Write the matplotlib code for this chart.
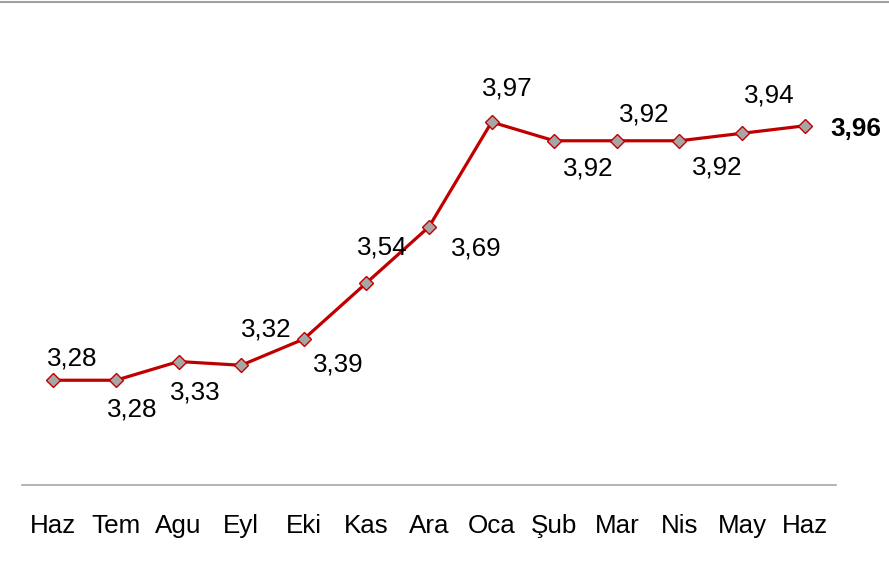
import matplotlib
matplotlib.use("Agg")
import matplotlib.pyplot as plt
from matplotlib.lines import Line2D

plt.rcParams['font.family'] = ['Liberation Sans', 'DejaVu Sans']

months = ["Haz", "Tem", "Agu", "Eyl", "Eki", "Kas", "Ara", "Oca", "Şub", "Mar", "Nis", "May", "Haz"]
values = [3.28, 3.28, 3.33, 3.32, 3.39, 3.54, 3.69, 3.97, 3.92, 3.92, 3.92, 3.94, 3.96]

# label offsets from each point, in pixels (dx, dy)
label_offsets = [(19, 22), (16, -29), (17, -31), (25, 36), (35, -25), (16, 35),
                 (47, -22), (16, 34), (34, -28), (27, 26), (38, -27), (27, 38)]

W, H = 889, 581
fig = plt.figure(figsize=(W / 100, H / 100), dpi=100)
ax = fig.add_axes([22 / W, 1 - 485 / H, (836 - 22) / W, (485 - 36) / H])

x = list(range(len(values)))
ax.plot(x, values, color="#C00000", lw=2.3, marker="D", markersize=7.5,
        markerfacecolor="#A6A6A6", markeredgecolor="#C00000", markeredgewidth=1.0,
        solid_capstyle="round", zorder=3)

ax.set_xlim(-0.5, len(values) - 0.5)
ax.set_ylim(3.0, 4.2)

for i, v in enumerate(values[:-1]):
    dx, dy = label_offsets[i]
    ax.annotate(f"{v:.2f}".replace(".", ","), (i, v), xytext=(dx, dy),
                textcoords="offset pixels", ha="center", va="center",
                fontsize=18.7, color="black")

last = len(values) - 1
ax.annotate(f"{values[last]:.2f}".replace(".", ","), (last, values[last]),
            xytext=(26, -3), textcoords="offset pixels", ha="left", va="center",
            fontsize=18.7, fontweight="bold", color="black", annotation_clip=False)

for side in ("top", "right", "left"):
    ax.spines[side].set_visible(False)
ax.spines["bottom"].set_color("#A6A6A6")
ax.spines["bottom"].set_linewidth(1.2)
ax.set_yticks([])
ax.set_xticks(x)
ax.set_xticklabels(months, fontsize=18.7)
ax.tick_params(axis="x", length=0, pad=21)

# thin grey rule across the top of the figure
fig.add_artist(Line2D([0, 1], [1 - 2 / H, 1 - 2 / H], transform=fig.transFigure,
                      color="#A0A0A0", lw=1.5))

fig.savefig("out.png", dpi=100)
